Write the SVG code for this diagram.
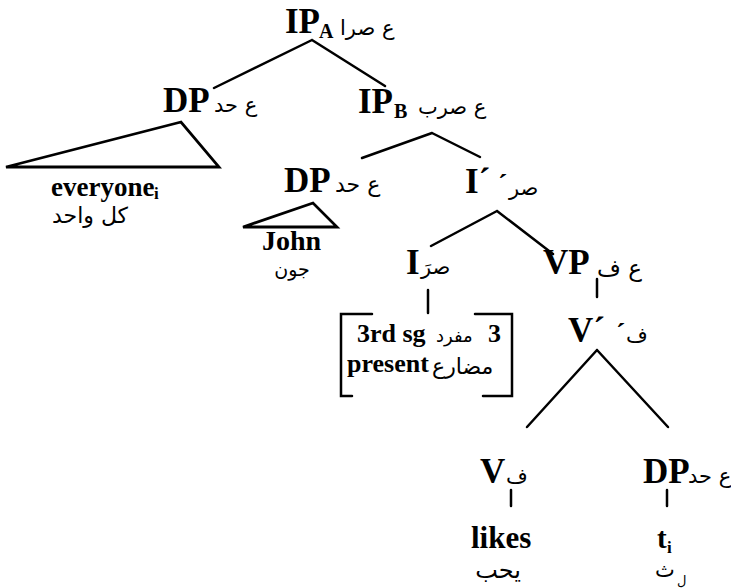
<svg xmlns="http://www.w3.org/2000/svg" width="731" height="588" viewBox="0 0 731 588">
<style>
.lab{font-family:"Liberation Serif","Times New Roman",serif;font-weight:bold;font-size:35px;fill:#000}
.sub{font-family:"Liberation Serif","Times New Roman",serif;font-weight:bold;font-size:20px;fill:#000}
.leaf{font-family:"Liberation Serif","Times New Roman",serif;font-weight:bold;font-size:27px;fill:#000}
.ar{font-family:"DejaVu Sans",sans-serif;font-size:21px;fill:#000}
.edge{stroke:#000;stroke-width:2.5;fill:none;stroke-linecap:round}
.tri{stroke:#000;stroke-width:2.8;fill:none;stroke-linejoin:miter}
</style>
<rect width="731" height="588" fill="#fff"/>
<g id="connectors" class="edge">
<path d="M312,40 L214,88 M312,40 L385,86"/>
<path d="M432,133 L362,158 M432,133 L480,157"/>
<path d="M497,211 L431,246 M497,211 L553,254"/>
<path d="M428,290 V313"/>
<path d="M597,279 V297"/>
<path d="M597,350 L527,427 M597,350 L668,427"/>
<path d="M511,490 V506"/>
<path d="M667,490 V506"/>
</g>
<g id="IPA">
<text class="lab" x="285" y="33">IP</text>
<text class="sub" x="319" y="38">A</text>
<text class="ar" x="340" y="35">ع صرا</text>
</g>
<g id="DP1">
<text class="lab" x="163" y="112">DP</text>
<text class="ar" x="214" y="112">ع حد</text>
<polygon class="tri" points="181,122 6,167 219,167"/>
</g>
<g id="everyone">
<text class="leaf" x="51" y="196">everyone</text>
<text class="sub" x="154" y="199" style="font-size:17px">i</text>
<text class="ar" x="52" y="223" style="font-size:22px">كل واحد</text>
</g>
<g id="IPB">
<text class="lab" x="358" y="113">IP</text>
<text class="sub" x="394" y="118">B</text>
<text class="ar" x="418" y="114">ع صرب</text>
</g>
<g id="DP2">
<text class="lab" x="284" y="192">DP</text>
<text class="ar" x="335" y="192" style="font-size:22px">ع حد</text>
<polygon class="tri" points="313,203 243,227 337,227"/>
</g>
<g id="John">
<text class="leaf" x="262" y="250" style="font-size:28px">John</text>
<text class="ar" x="292" y="276" text-anchor="middle" style="font-size:19px">جون</text>
</g>
<g id="Ibar">
<text class="lab" x="465" y="193">I´</text>
<text class="lab" x="498" y="193" style="font-size:28px">´</text>
<text class="ar" x="509" y="195">صر</text>
</g>
<g id="I">
<text class="lab" x="406" y="274">I</text>
<text class="ar" x="421" y="274">صرَ</text>
</g>
<g id="features">
<path class="edge" d="M372,314 H341 V396 H352 M475,314 H512 V396 H483" stroke-linecap="butt"/>
<text class="leaf" x="357" y="342" style="font-size:26px">3rd sg</text>
<text class="ar" x="436" y="342" style="font-size:18px">مفرد</text>
<text class="leaf" x="488" y="342" style="font-size:26px">3</text>
<text class="leaf" x="347" y="372" style="font-size:26px">present</text>
<text class="ar" x="432" y="374" style="font-size:22px">مضارع</text>
</g>
<g id="VP">
<text class="lab" x="543" y="274">VP</text>
<text class="ar" x="597" y="276" style="font-size:23px">ع ف</text>
</g>
<g id="Vbar">
<text class="lab" x="568" y="342">V´</text>
<text class="lab" x="616" y="342" style="font-size:28px">´</text>
<text class="ar" x="626" y="342">ف</text>
</g>
<g id="V">
<text class="lab" x="480" y="483">V</text>
<text class="ar" x="506" y="483">ف</text>
</g>
<g id="DP3">
<text class="lab" x="643" y="483">DP</text>
<text class="ar" x="688" y="483">ع حد</text>
</g>
<g id="likes">
<text class="leaf" x="471" y="548" style="font-size:31px">likes</text>
<text class="ar" x="498" y="578" text-anchor="middle" style="font-size:24px">يحب</text>
</g>
<g id="trace">
<text class="leaf" x="657" y="548" style="font-size:29px">t</text>
<text class="sub" x="667" y="553" style="font-size:17px">i</text>
<text class="ar" x="655" y="577" style="font-size:21px">ث</text>
<text class="ar" x="677" y="585" style="font-size:13px">ل</text>
</g>
</svg>
